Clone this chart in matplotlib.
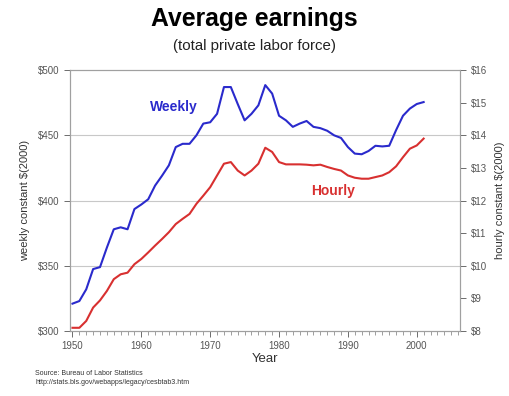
import matplotlib.pyplot as plt
from matplotlib.ticker import MultipleLocator, FuncFormatter

plt.rcParams['font.family'] = ['Liberation Sans', 'DejaVu Sans']

# Dados
anos = list(range(1950, 2002))
semanal = [321, 323, 332, 347.5, 349, 364, 378, 379.5, 378, 393.5,
           397, 401, 411.5, 419, 427, 441, 443.5, 443.5, 450, 459,
           460, 466.5, 487, 487, 474, 461.5, 466.5, 473, 488.5, 482,
           465, 461.5, 456.5, 459, 461, 456.5, 455.5, 453.5, 450, 448,
           441, 436, 435.5, 438, 442, 441.5, 442, 454, 465, 470.5,
           474, 475.5]
horaria = [8.10, 8.10, 8.31, 8.72, 8.94, 9.23, 9.59, 9.74, 9.79, 10.05,
           10.21, 10.41, 10.62, 10.82, 11.03, 11.28, 11.44, 11.59, 11.90, 12.15,
           12.41, 12.77, 13.13, 13.18, 12.92, 12.77, 12.92, 13.13, 13.62, 13.49,
           13.18, 13.11, 13.11, 13.11, 13.10, 13.08, 13.10, 13.03, 12.97, 12.92,
           12.77, 12.70, 12.67, 12.67, 12.72, 12.77, 12.87, 13.05, 13.33, 13.59,
           13.69, 13.90]

ticks_semanal = [300, 350, 400, 450, 500]
ticks_horaria = list(range(8, 17))

cor_azul = '#2a2acc'
cor_verm = '#d83030'
cor_cinza = '#a0a0a0'

fig = plt.figure(figsize=(5.09, 3.96), dpi=100)
ax = fig.add_axes([0.1375, 0.164, 0.7665, 0.659])
ax2 = ax.twinx()

ax.plot(anos, semanal, color=cor_azul, lw=1.5)
ax2.plot(anos, horaria, color=cor_verm, lw=1.5)

ax.set_xlim(1949.64, 2006.3)
ax.set_ylim(300, 500)
ax2.set_ylim(8, 16)

ax.set_yticks(ticks_semanal)
ax2.set_yticks(ticks_horaria)
ax.yaxis.set_major_formatter(FuncFormatter(lambda v, p: f'${v:.0f}'))
ax2.yaxis.set_major_formatter(FuncFormatter(lambda v, p: f'${v:.0f}'))

ax.xaxis.set_major_locator(MultipleLocator(10))
ax.xaxis.set_minor_locator(MultipleLocator(1))

for v in ticks_semanal[1:-1]:
    ax.axhline(v, color='#c8c8c8', lw=0.8, zorder=0)

for a in (ax, ax2):
    for s in a.spines.values():
        s.set_color(cor_cinza)
        s.set_linewidth(0.8)
    a.tick_params(colors='#555555', labelsize=7, length=4, width=0.6)
    a.tick_params(which='minor', length=3, width=0.5, colors='#777777')

ax.set_xlabel('Year', fontsize=9.5, color='#333333', labelpad=1)
ax.set_ylabel('weekly constant $(2000)', fontsize=8, color='#333333', labelpad=6)
ax2.set_ylabel('hourly constant $(2000)', fontsize=8, color='#333333', labelpad=6)

ax.text(1961.3, 472, 'Weekly', color=cor_azul, fontsize=10, fontweight='bold',
        va='center')
ax2.text(1984.6, 12.3, 'Hourly', color=cor_verm, fontsize=10, fontweight='bold',
         va='center')

fig.text(0.5, 0.952, 'Average earnings', ha='center', va='center',
         fontsize=17.8, fontweight='bold')
fig.text(0.5, 0.885, '(total private labor force)', ha='center', va='center',
         fontsize=10.8, color='#222222')

fig.text(0.069, 0.058, 'Source: Bureau of Labor Statistics', fontsize=5,
         color='#333333', va='center')
fig.text(0.069, 0.033, 'http://stats.bls.gov/webapps/legacy/cesbtab3.htm',
         fontsize=5, color='#333333', va='center')

fig.savefig('out.png', dpi=100)
